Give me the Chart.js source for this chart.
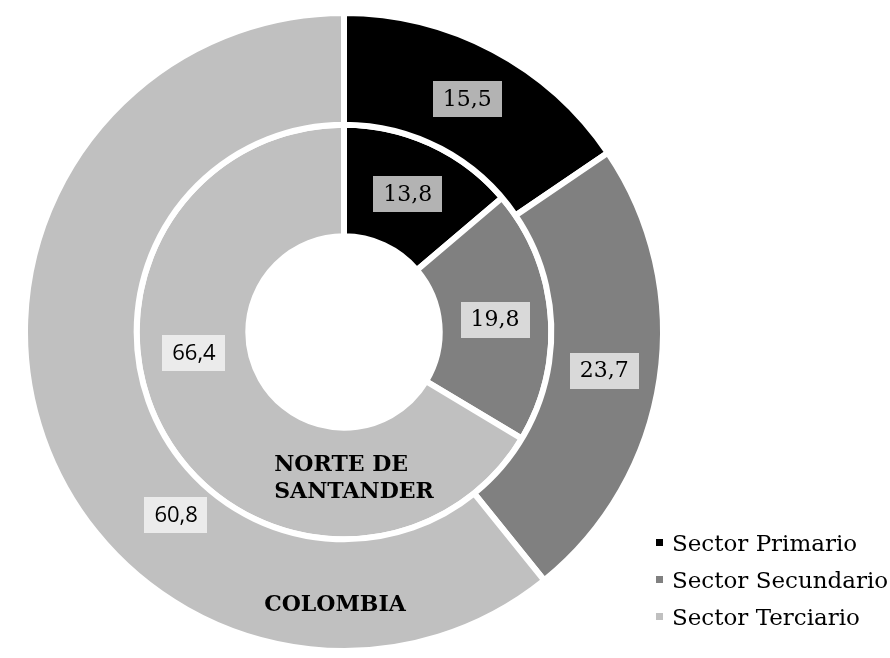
<!DOCTYPE html>
<html>
<head>
<meta charset="utf-8">
<script src="https://cdn.jsdelivr.net/npm/chart.js@4.4.1/dist/chart.umd.min.js"></script>
<style>
  html, body { margin: 0; padding: 0; background: #fff; }
  #wrap { position: relative; width: 890px; height: 658px; }
  #chartCanvas { position: absolute; left: 0; top: 0; }
  #legend {
    position: absolute; left: 656px; top: 524px;
    font-family: "DejaVu Serif", serif; font-size: 23px; color: #000;
  }
  .legend-item { display: flex; align-items: center; height: 37px; white-space: nowrap; }
  .legend-swatch { display: inline-block; width: 7px; height: 7px; margin-right: 9px; }
</style>
</head>
<body>
<div id="wrap">
  <canvas id="chartCanvas" width="890" height="658"></canvas>
  <div id="legend"></div>
</div>
<script>
const categories = ["Sector Primario", "Sector Secundario", "Sector Terciario"];
const colombia = [15.5, 23.7, 60.8];
const norteSantander = [13.8, 19.8, 66.4];
const ringNames = [["COLOMBIA"], ["NORTE DE", "SANTANDER"]];
const colors = ["#000000", "#808080", "#c0c0c0"];
const labelBoxColors = ["#b3b3b3", "#d9d9d9", "#ebebeb"];

// value labels in boxes + ring names, drawn after the arcs
const ringLabels = {
  id: "ringLabels",
  afterDatasetsDraw(chart, args, opts) {
    const ctx = chart.ctx;
    ctx.save();
    chart.data.datasets.forEach((ds, di) => {
      const meta = chart.getDatasetMeta(di);
      let cx = 0, cy = 0, midR = 0;
      meta.data.forEach((arc, i) => {
        const p = arc.getProps(["x", "y", "startAngle", "endAngle", "innerRadius", "outerRadius"], true);
        cx = p.x; cy = p.y; midR = (p.innerRadius + p.outerRadius) / 2;
        const nudge = (opts.nudge[di] || [])[i] || [0, 0];
        const a = (p.startAngle + p.endAngle) / 2 + nudge[0] * Math.PI / 180;
        const r = midR + nudge[1];
        const x = p.x + Math.cos(a) * r;
        const y = p.y + Math.sin(a) * r;
        const text = ds.data[i].toFixed(1).replace(".", ",");
        ctx.font = i === 2 ? '22px "Open Sans", sans-serif' : '22px "DejaVu Serif", serif';
        const w = ctx.measureText(text).width + 20;
        ctx.fillStyle = labelBoxColors[i];
        ctx.fillRect(Math.round(x - w / 2), Math.round(y - 18), Math.round(w), 36);
        ctx.fillStyle = "#000";
        ctx.textAlign = "center";
        ctx.textBaseline = "middle";
        ctx.fillText(text, x, y + 1);
      });

      // ring name below the hole
      const lines = ringNames[di];
      const shift = opts.nameShift[di];
      ctx.font = 'bold 22px "DejaVu Serif", serif';
      const maxW = Math.max(...lines.map((l) => ctx.measureText(l).width));
      const left = cx + shift[0] - maxW / 2;
      const top = cy + midR + shift[1] - (lines.length - 1) * 27 / 2;
      ctx.fillStyle = "#000";
      ctx.textAlign = "left";
      ctx.textBaseline = "middle";
      lines.forEach((l, k) => ctx.fillText(l, left, top + k * 27));
    });
    ctx.restore();
  },
};

const legend = document.getElementById("legend");
categories.forEach((label, i) => {
  const item = document.createElement("div");
  item.className = "legend-item";
  const swatch = document.createElement("span");
  swatch.className = "legend-swatch";
  swatch.style.backgroundColor = colors[i];
  const text = document.createElement("span");
  text.textContent = label;
  item.append(swatch, text);
  legend.appendChild(item);
});

const ctx = document.getElementById("chartCanvas").getContext("2d");
new Chart(ctx, {
  type: "doughnut",
  data: {
    labels: categories,
    datasets: [
      { label: "Colombia", data: colombia, backgroundColor: colors, borderColor: "#fff", borderWidth: 6 },
      { label: "Norte de Santander", data: norteSantander, backgroundColor: colors, borderColor: "#fff", borderWidth: 6 },
    ],
  },
  options: {
    responsive: false,
    animation: false,
    cutout: "30%",
    layout: { padding: { left: 22, top: 10, right: 224, bottom: 4 } },
    plugins: {
      legend: { display: false },
      tooltip: { enabled: false },
      ringLabels: {
        nudge: { 0: [null, null, [-28, -15]], 1: [null, null, [21.5, 0]] },
        nameShift: { 0: [-9, 10], 1: [10, -5] },
      },
    },
  },
  plugins: [ringLabels],
});
</script>
</body>
</html>
